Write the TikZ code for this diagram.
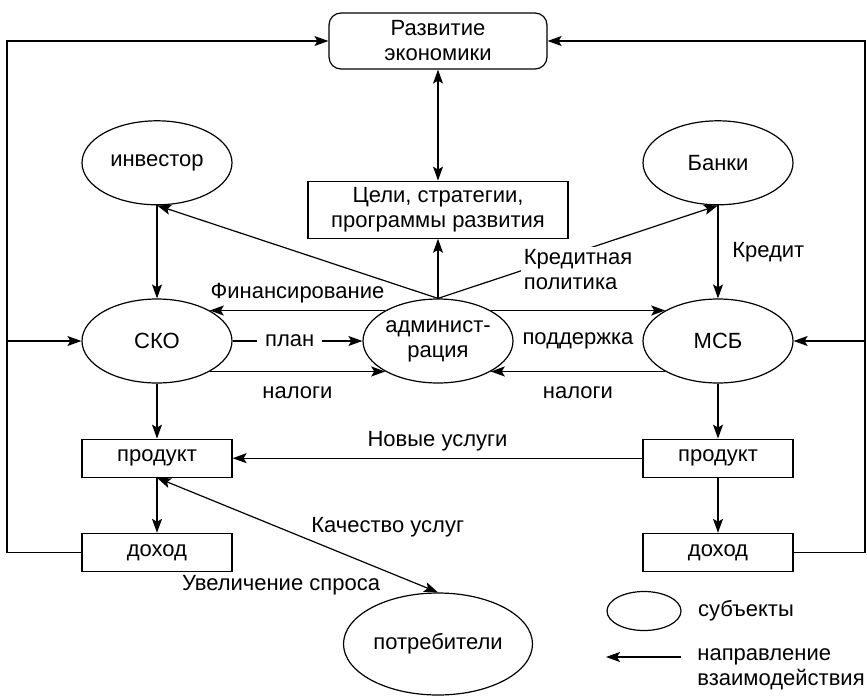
\documentclass[tikz,border=0pt]{standalone}
\usepackage{fontspec}
\setmainfont{Liberation Sans}
\usepackage{tikz}
\usetikzlibrary{shapes.geometric,arrows.meta,positioning}
\newcommand{\diafont}{\fontsize{11}{12.5}\selectfont}

\begin{document}
\begin{tikzpicture}[
    x=0.5pt, y=-0.5pt,
    node distance=27.5pt,
    every node/.style={font=\diafont},
    actor/.style={ellipse, draw, line width=0.6pt, inner sep=0pt, minimum width=75pt, minimum height=42pt, align=center},
    rbox/.style={rectangle, draw, line width=0.6pt, inner sep=2pt, minimum width=75pt, minimum height=19pt},
    arr/.style={-{Stealth[length=7pt,width=5pt,inset=1.5pt]}, line width=0.6pt},
    biarr/.style={{Stealth[length=7pt,width=5pt,inset=1.5pt]}-{Stealth[length=7pt,width=5pt,inset=1.5pt]}, line width=0.6pt}
]
\useasboundingbox (0,0) rectangle (867,696);

\node[rbox, rounded corners=6pt, minimum width=109pt, minimum height=28pt, align=center] (dev) at (438,41) {Развитие\\экономики};
\node[rbox, minimum width=130pt, minimum height=28.5pt, align=center, below=55.5pt of dev] (goals) {Цели, стратегии,\\программы развития};

\node[actor] (adm) at (438,341) {админист-\\рация};
\node[actor] (sko) at (157,341) {СКО};
\node[actor] (msb) at (718,341) {МСБ};
\node[actor, above=46.5pt of sko] (inv) {инвестор};
\node[actor, above=46.5pt of msb] (banks) {Банки};

\node[rbox, below=of sko] (prodL) {продукт};
\node[rbox, below=of prodL] (incL) {доход};
\node[rbox, below=of msb] (prodR) {продукт};
\node[rbox, below=of prodR] (incR) {доход};

\node[actor, minimum width=94.5pt, minimum height=51pt] (cons) at (438,644) {потребители};

% frame lines to the top box
\coordinate (lt) at (7,41);
\coordinate (rt) at (865,41);
\draw[arr] (incL.west) -| (lt) -- (dev.west);
\draw[arr] (incR.east) -| (rt) -- (dev.east);
\draw[arr] (lt |- sko) -- (sko.west);
\draw[arr] (rt |- msb) -- (msb.east);

\draw[biarr] (dev) -- (goals);
\draw[arr] (adm.north) -- (goals.south);
\draw[arr] (adm.north) -- (inv.south);
\draw[arr] (adm.north) -- node[pos=0.5, yshift=-9pt, fill=white, inner sep=1.5pt, align=left] {Кредитная\\политика} (banks.south);

\draw[arr] (adm.150) -- node[above] {Финансирование} (sko.30);
\draw[arr] (sko.east) -- node[pos=0.44, fill=white, inner xsep=4pt, inner ysep=1pt] {план} (adm.west);
\draw[arr] (sko.330) -- node[below=4pt] {налоги} (adm.210);
\draw[arr] (adm.30) -- node[below=7.5pt] {поддержка} (msb.150);
\draw[arr] (msb.210) -- node[below=4pt] {налоги} (adm.330);

\draw[arr] (inv) -- (sko);
\draw[arr] (banks) -- node[right=3.5pt] {Кредит} (msb);
\draw[arr] (sko) -- (prodL);
\draw[arr] (msb) -- (prodR);
\draw[arr] (prodL) -- (incL);
\draw[arr] (prodR) -- (incR);
\draw[arr] (prodR.west) -- node[above] {Новые услуги} (prodL.east);
\draw[biarr] (prodL.south) -- node[pos=0.54, anchor=south west, inner sep=1pt] {Качество услуг}
    node[pos=0.81, anchor=north east, inner sep=2pt] {Увеличение спроса} (cons.north);

% legend
\node[actor, minimum width=37pt, minimum height=19.5pt] (lgE) at (644,611) {};
\node[right=5pt of lgE, inner sep=3pt] (lgT) {субъекты};
\coordinate (lgA) at (681,657);
\coordinate (lgB) at (606,657);
\draw[arr] (lgA) -- (lgB);
\node[anchor=west, align=left, inner sep=3pt] (lgD) at (691,669) {направление\\взаимодействия};
\end{tikzpicture}
\end{document}
